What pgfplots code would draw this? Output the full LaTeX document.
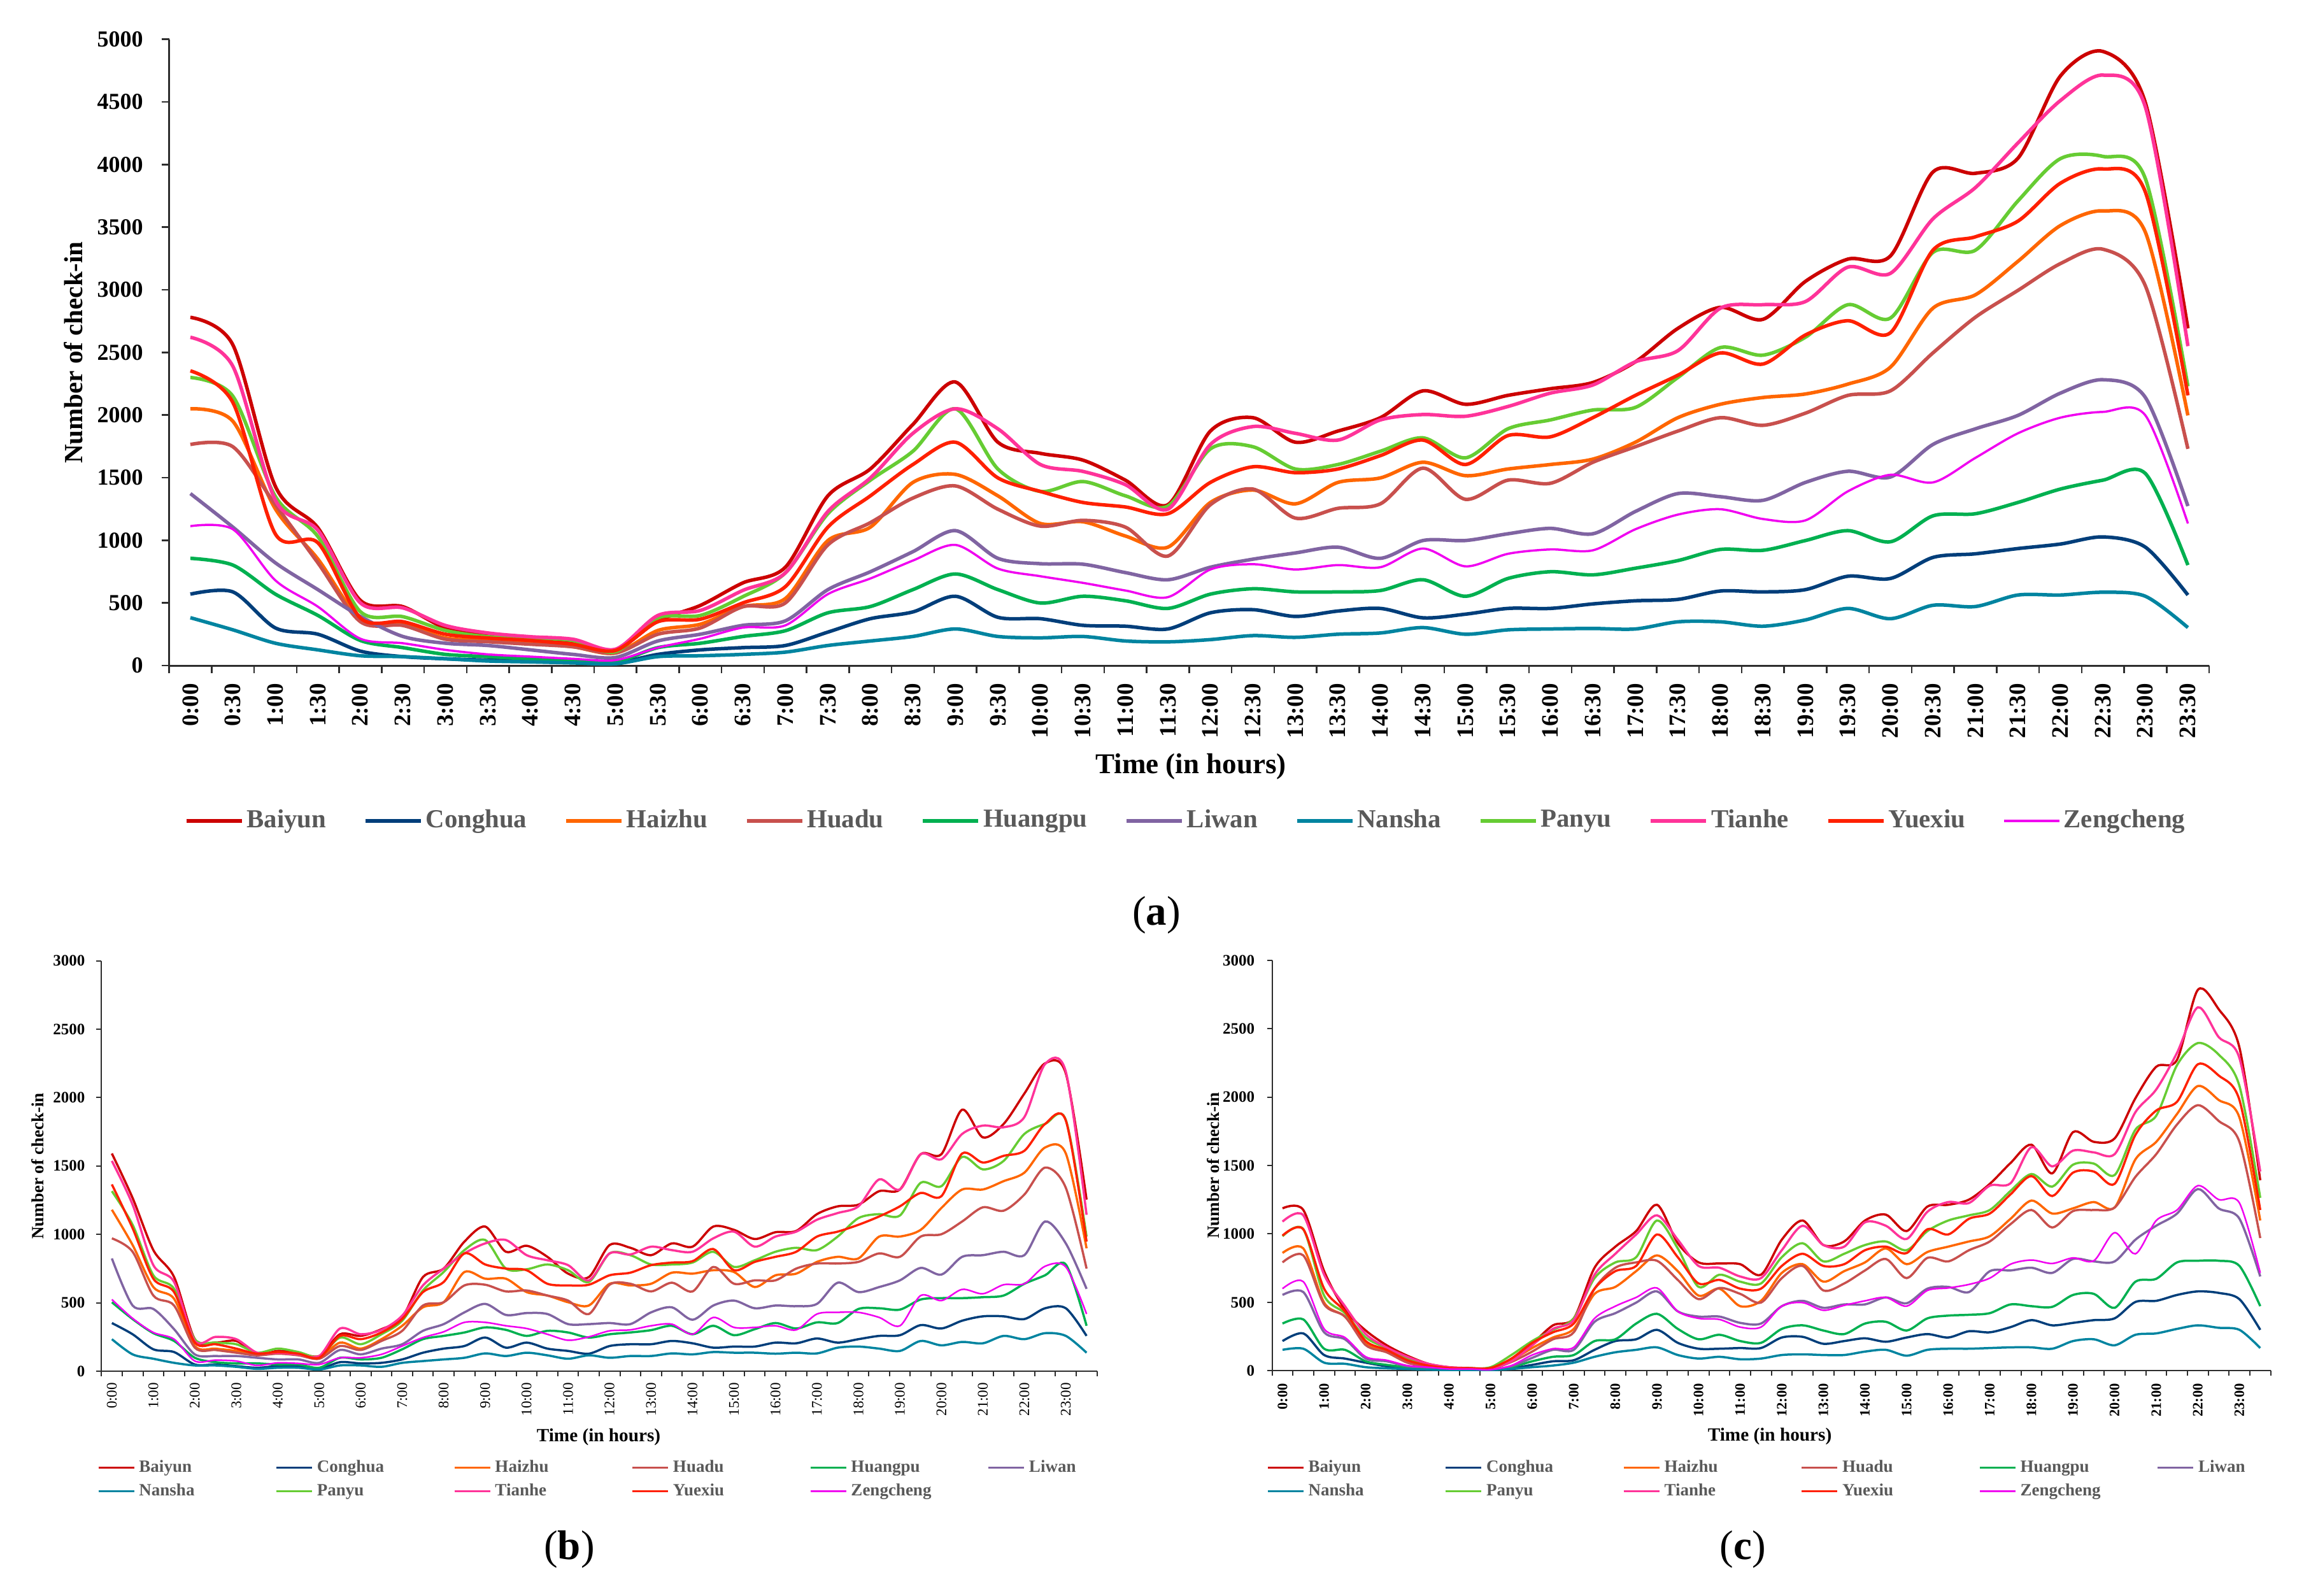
\documentclass[border=0pt]{standalone}
\usepackage{pgfplots}
\pgfplotsset{compat=1.18}
\usepackage{pgfplotstable}
\usepackage{fontspec}
\setmainfont{Liberation Serif}
\definecolor{cBaiyun}{RGB}{204,0,0}
\definecolor{cConghua}{RGB}{0,62,122}
\definecolor{cHaizhu}{RGB}{255,102,0}
\definecolor{cHuadu}{RGB}{200,80,77}
\definecolor{cHuangpu}{RGB}{0,176,80}
\definecolor{cLiwan}{RGB}{128,100,162}
\definecolor{cNansha}{RGB}{0,132,160}
\definecolor{cPanyu}{RGB}{102,204,51}
\definecolor{cTianhe}{RGB}{255,51,153}
\definecolor{cYuexiu}{RGB}{255,32,0}
\definecolor{cZengcheng}{RGB}{240,0,240}
\definecolor{legendgray}{RGB}{89,89,89}
\definecolor{axisgray}{RGB}{45,45,45}

\pgfplotstableread{
i Baiyun Conghua Haizhu Huadu Huangpu Liwan Nansha Panyu Tianhe Yuexiu Zengcheng
0 2780 570 2050 1765 856 1373 382 2300 2621 2353 1113
1 2560 588 1950 1747 802 1105 285 2150 2389 2100 1088
2 1430 300 1250 1284 570 820 178 1350 1320 1050 680
3 1100 250 850 820 400 606 125 1030 1080 980 470
4 520 115 370 350 200 392 78 430 500 380 214
5 470 71 330 320 143 232 71 390 460 350 178
6 300 54 220 210 89 178 54 280 320 250 125
7 250 43 200 190 71 160 36 230 260 220 89
8 210 36 180 170 54 125 29 220 230 200 71
9 190 29 150 150 43 89 21 200 210 170 54
10 125 21 100 100 29 64 14 110 130 120 43
11 357 89 280 250 143 196 71 380 400 350 143
12 480 125 330 300 178 250 78 400 440 370 214
13 660 143 470 470 232 321 89 550 600 500 303
14 785 160 535 500 278 357 107 740 740 630 321
15 1355 267 998 963 421 606 160 1212 1230 1105 570
16 1570 374 1105 1141 471 749 196 1480 1498 1355 695
17 1925 428 1462 1337 606 909 232 1711 1854 1605 838
18 2264 553 1526 1434 731 1077 292 2050 2050 1783 963
19 1783 385 1355 1248 606 856 232 1569 1890 1498 774
20 1694 374 1134 1113 499 813 221 1390 1605 1390 713
21 1640 321 1148 1159 553 809 232 1469 1550 1302 660
22 1480 314 1034 1105 517 742 196 1355 1444 1266 599
23 1284 292 945 874 456 685 189 1273 1248 1212 546
24 1872 421 1302 1284 570 785 207 1730 1765 1462 767
25 1979 446 1401 1409 613 849 239 1747 1908 1587 809
26 1783 392 1291 1177 588 899 225 1569 1854 1540 767
27 1872 435 1462 1255 588 945 250 1605 1800 1569 802
28 1979 456 1498 1291 599 856 260 1711 1961 1676 785
29 2193 381 1623 1576 685 998 303 1818 2004 1800 934
30 2086 410 1516 1327 553 998 250 1658 1990 1605 792
31 2157 456 1569 1480 695 1052 285 1890 2068 1836 892
32 2210 456 1605 1455 749 1095 292 1961 2175 1826 927
33 2260 492 1648 1623 724 1052 296 2040 2240 1979 920
34 2425 517 1783 1747 777 1230 292 2061 2425 2157 1088
35 2692 528 1979 1872 838 1373 349 2300 2514 2318 1205
36 2860 595 2086 1979 927 1348 349 2539 2853 2496 1248
37 2764 588 2140 1918 920 1319 314 2478 2881 2407 1170
38 3067 606 2168 2015 998 1462 364 2621 2906 2639 1159
39 3245 713 2247 2157 1077 1551 456 2881 3181 2753 1391
40 3270 695 2382 2193 988 1505 374 2774 3131 2657 1523
41 3940 863 2853 2496 1195 1765 481 3298 3566 3316 1462
42 3930 892 2960 2781 1212 1890 471 3316 3816 3423 1658
43 4050 934 3227 2995 1302 1997 563 3709 4172 3548 1854
44 4707 970 3513 3209 1409 2175 563 4047 4511 3851 1979
45 4903 1027 3630 3324 1480 2282 585 4065 4714 3965 2025
46 4493 945 3459 3031 1533 2140 553 3887 4458 3780 1997
47 2692 563 1997 1730 802 1273 303 2229 2550 2157 1134
}\tabA

\pgfplotstableread{
i Baiyun Conghua Haizhu Huadu Huangpu Liwan Nansha Panyu Tianhe Yuexiu Zengcheng
0 1591 352 1180 971 504 824 234 1316 1537 1365 524
1 1266 270 922 873 381 480 123 1070 1217 1045 386
2 885 160 615 553 278 455 91 701 775 676 283
3 688 140 529 480 221 307 61 602 652 578 234
4 234 49 184 172 98 123 42 234 221 209 74
5 209 49 165 155 66 111 42 209 251 197 81
6 221 37 148 135 57 111 32 197 234 165 74
7 123 25 123 116 57 98 17 135 135 128 42
8 148 37 135 128 49 86 25 165 135 140 61
9 135 37 123 116 49 86 25 140 123 128 57
10 111 17 98 91 25 61 12 106 111 98 49
11 270 66 209 184 98 155 42 246 312 258 98
12 258 57 165 155 86 123 42 197 270 234 98
13 307 61 234 221 98 165 32 270 302 283 123
14 393 86 332 295 160 197 61 369 406 381 184
15 688 135 467 480 234 295 74 590 627 578 246
16 750 165 504 504 258 344 86 725 750 652 288
17 947 184 725 627 283 430 98 885 861 861 357
18 1057 246 676 632 320 492 130 959 934 780 357
19 873 172 676 583 302 411 111 750 959 750 332
20 917 209 578 590 258 425 135 745 848 738 312
21 836 165 553 553 295 418 116 780 811 639 270
22 713 148 504 516 283 344 91 738 775 627 226
23 688 128 480 418 246 344 116 652 664 632 251
24 922 184 639 632 270 352 98 861 861 701 295
25 902 197 627 639 283 344 111 848 853 720 302
26 848 197 639 583 300 430 111 780 910 775 332
27 934 221 720 647 332 467 130 780 885 794 344
28 910 204 713 583 270 376 123 794 873 804 270
29 1057 172 738 762 332 480 140 873 971 893 393
30 1033 180 725 639 263 516 135 762 1020 738 320
31 966 180 615 664 307 460 135 811 910 799 320
32 1016 209 701 664 352 480 128 873 984 836 332
33 1025 204 713 750 312 475 135 902 1020 873 302
34 1148 239 799 787 357 492 130 885 1107 984 418
35 1205 209 836 787 352 647 172 984 1156 1020 430
36 1217 234 824 799 455 578 180 1119 1205 1070 430
37 1316 258 984 861 460 615 165 1148 1402 1131 393
38 1328 263 984 836 450 664 148 1138 1328 1205 332
39 1586 337 1033 984 524 755 221 1377 1586 1303 553
40 1586 312 1193 1001 534 706 189 1352 1549 1279 516
41 1911 369 1328 1094 534 836 214 1566 1734 1591 598
42 1709 401 1328 1198 541 848 204 1475 1795 1525 566
43 1807 401 1389 1173 553 873 258 1537 1783 1574 632
44 2029 381 1451 1291 639 848 234 1734 1857 1611 639
45 2250 460 1635 1488 701 1094 278 1807 2245 1807 767
46 2176 460 1591 1340 780 934 258 1837 2189 1832 762
47 1254 258 898 750 332 602 135 984 1143 947 418
}\tabB

\pgfplotstableread{
i Baiyun Conghua Haizhu Huadu Huangpu Liwan Nansha Panyu Tianhe Yuexiu Zengcheng
0 1187 217 861 792 345 554 153 983 1090 988 600
1 1175 273 894 843 375 575 161 1034 1136 1034 651
2 728 115 498 485 161 281 59 549 702 600 306
3 447 89 396 396 153 230 51 421 472 434 243
4 294 59 197 187 69 89 26 243 268 217 102
5 187 33 140 135 43 69 18 166 171 153 77
6 110 18 64 59 26 33 13 89 102 77 38
7 51 13 33 31 18 23 8 43 51 38 26
8 26 5 18 18 8 13 5 23 26 20 13
9 20 5 13 13 8 13 5 18 18 18 13
10 18 5 18 13 8 8 5 26 18 20 8
11 77 18 77 64 26 33 13 115 69 89 38
12 197 43 166 140 69 94 26 217 186 204 115
13 332 69 243 230 102 153 38 299 306 281 161
14 383 77 306 281 115 153 59 383 370 345 171
15 753 153 562 600 217 358 102 677 702 600 383
16 907 217 613 753 230 421 135 792 855 728 472
17 1021 230 728 792 345 498 153 830 996 766 536
18 1213 299 843 804 416 580 171 1098 1136 996 605
19 932 204 728 664 306 434 115 894 958 830 434
20 792 161 549 523 230 396 89 613 766 638 383
21 784 161 600 605 263 396 102 702 753 664 375
22 779 166 472 562 217 350 84 651 689 600 319
23 702 166 511 498 204 345 89 638 677 600 319
24 958 243 715 677 306 472 115 830 881 766 472
25 1098 248 779 766 332 511 120 932 1060 855 498
26 919 197 651 587 294 460 115 799 919 766 442
27 945 217 728 638 268 485 115 855 907 779 478
28 1098 237 792 733 345 485 140 919 1085 881 511
29 1141 212 894 817 358 536 153 945 1060 907 536
30 1021 243 779 677 294 493 110 881 963 860 472
31 1200 268 868 825 383 600 153 1021 1162 1034 587
32 1213 243 907 799 403 613 161 1098 1233 996 605
33 1251 289 945 881 409 575 161 1136 1226 1111 631
34 1366 281 983 945 421 728 166 1175 1353 1149 677
35 1519 319 1111 1072 485 733 171 1315 1371 1290 779
36 1652 370 1244 1175 472 753 171 1438 1634 1423 809
37 1443 332 1149 1047 467 715 161 1346 1494 1277 784
38 1744 350 1187 1167 554 817 217 1506 1609 1448 825
39 1673 370 1233 1175 562 799 230 1514 1596 1456 804
40 1698 383 1193 1193 460 799 186 1430 1583 1366 1009
41 1992 503 1545 1417 651 958 263 1762 1890 1724 855
42 2222 511 1673 1583 672 1060 273 1864 2056 1902 1098
43 2273 554 1877 1800 792 1149 306 2234 2324 1966 1175
44 2784 580 2081 1941 804 1328 332 2395 2656 2240 1353
45 2643 569 1979 1826 804 1187 314 2311 2439 2158 1251
46 2362 523 1851 1673 766 1111 299 2081 2285 1979 1226
47 1392 299 1098 970 472 689 166 1264 1456 1175 715
}\tabC

\newcommand\allplots[3]{%
\addplot[smooth,cBaiyun,line width=#2] table[x=i,y=Baiyun]{#1};
\addplot[smooth,cConghua,line width=#2] table[x=i,y=Conghua]{#1};
\addplot[smooth,cHaizhu,line width=#2] table[x=i,y=Haizhu]{#1};
\addplot[smooth,cHuadu,line width=#2] table[x=i,y=Huadu]{#1};
\addplot[smooth,cHuangpu,line width=#2] table[x=i,y=Huangpu]{#1};
\addplot[smooth,cLiwan,line width=#2] table[x=i,y=Liwan]{#1};
\addplot[smooth,cNansha,line width=#2] table[x=i,y=Nansha]{#1};
\addplot[smooth,cPanyu,line width=#2] table[x=i,y=Panyu]{#1};
\addplot[smooth,cTianhe,line width=#2] table[x=i,y=Tianhe]{#1};
\addplot[smooth,cYuexiu,line width=#2] table[x=i,y=Yuexiu]{#1};
\addplot[smooth,cZengcheng,line width=#3] table[x=i,y=Zengcheng]{#1};
}
\newcommand\LB[1]{\makebox[42.8pt][l]{\rule[-1.3pt]{0pt}{5.6pt}#1}}

\pgfplotsset{
  catbase/.style={
    anchor=south west, scale only axis,
    xmin=-0.5, xmax=47.5, ymin=0,
    axis x line*=bottom, axis y line*=left,
    tick align=outside,
    xtick={-0.5,0.5,...,47.5},
    x tick label as interval,
    tick style={color=axisgray},
    /pgf/number format/1000 sep={},
    /pgf/number format/assume math mode=true,
    legend cell align=left,
    clip=true,
  },
}

\begin{document}
\begin{tikzpicture}
\useasboundingbox (0,0) rectangle (721.4pt,501pt);

% ---------------- panel (a) ----------------
\begin{axis}[catbase,
  at={(53.12pt,292pt)}, width=640.68pt, height=196.66pt,
  ymax=5000, ytick={0,500,...,5000},
  axis line style={line width=0.6pt, color=axisgray},
  major tick length=2.4pt, tick style={line width=0.5pt},
  yticklabel style={font=\fontsize{7.2}{8}\selectfont\bfseries, inner sep=0pt},
  yticklabel shift=5.6pt,
  xticklabel style={font=\fontsize{7.4}{8}\selectfont\bfseries, rotate=90, anchor=east, inner sep=0pt},
  xticklabel shift=3pt,
  xticklabels={0:00,0:30,1:00,1:30,2:00,2:30,3:00,3:30,4:00,4:30,5:00,5:30,6:00,6:30,7:00,7:30,8:00,8:30,9:00,9:30,10:00,10:30,11:00,11:30,12:00,12:30,13:00,13:30,14:00,14:30,15:00,15:30,16:00,16:30,17:00,17:30,18:00,18:30,19:00,19:30,20:00,20:30,21:00,21:30,22:00,22:30,23:00,23:30},
  legend columns=11,
  legend style={at={(0.4979,-0.2481)}, anchor=center, draw=none, fill=none,
    inner sep=0pt, outer sep=0pt, nodes={inner sep=0pt},
    font=\fontsize{8.16}{9}\selectfont\bfseries, text=legendgray,
    /tikz/every odd column/.append style={column sep=1pt},
    /tikz/every even column/.append style={column sep=11.8pt}},
  legend image code/.code={\draw[#1] (0pt,0pt) -- (17.4pt,0pt);},
]
\allplots{\tabA}{1.1pt}{0.7pt}
\legend{Baiyun,Conghua,Haizhu,Huadu,Huangpu,Liwan,Nansha,Panyu,Tianhe,Yuexiu,Zengcheng}
\end{axis}
\node[rotate=90, font=\fontsize{8.2}{9}\selectfont\bfseries] at (23.0pt,390.3pt) {Number of check-in};
\node[font=\fontsize{9}{10}\selectfont\bfseries] at (374.0pt,260.2pt) {Time (in hours)};
\node[font=\fontsize{13}{14}\selectfont] at (363.2pt,213.6pt) {(\textbf{a})};

% ---------------- panel (b) ----------------
\begin{axis}[catbase,
  at={(31.88pt,70.4pt)}, width=312.62pt, height=128.9pt,
  ymax=3000, ytick={0,500,...,3000},
  axis line style={line width=0.4pt, color=axisgray},
  major tick length=1.6pt, tick style={line width=0.4pt},
  yticklabel style={font=\fontsize{5}{6}\selectfont\bfseries, inner sep=0pt},
  yticklabel shift=3.4pt,
  xticklabel style={font=\fontsize{4.6}{5}\selectfont, rotate=90, anchor=east, inner sep=0pt},
  xticklabel shift=1.8pt,
  xticklabels={0:00,,1:00,,2:00,,3:00,,4:00,,5:00,,6:00,,7:00,,8:00,,9:00,,10:00,,11:00,,12:00,,13:00,,14:00,,15:00,,16:00,,17:00,,18:00,,19:00,,20:00,,21:00,,22:00,,23:00,},
  legend columns=6,
  legend style={at={(-0.0041,-0.2126)}, anchor=north west, draw=none, fill=none,
    inner sep=0pt, outer sep=0pt, nodes={inner sep=0pt}, row sep=1.6pt,
    font=\fontsize{5.4}{6}\selectfont\bfseries, text=legendgray,
    /tikz/every odd column/.append style={column sep=1.2pt},
    /tikz/every even column/.append style={column sep=0pt}},
  legend image code/.code={\draw[#1] (0pt,0pt) -- (11.2pt,0pt);},
]
\allplots{\tabB}{0.7pt}{0.5pt}
\legend{\LB{Baiyun},\LB{Conghua},\LB{Haizhu},\LB{Huadu},\LB{Huangpu},\LB{Liwan},\LB{Nansha},\LB{Panyu},\LB{Tianhe},\LB{Yuexiu},\LB{Zengcheng}}
\end{axis}
\node[rotate=90, font=\fontsize{5.4}{6}\selectfont\bfseries] at (11.8pt,134.8pt) {Number of check-in};
\node[font=\fontsize{5.85}{7}\selectfont\bfseries] at (188.0pt,49.8pt) {Time (in hours)};
\node[font=\fontsize{13}{14}\selectfont] at (178.8pt,14.4pt) {(\textbf{b})};

% ---------------- panel (c) ----------------
\begin{axis}[catbase,
  at={(399.52pt,70.54pt)}, width=313.6pt, height=128.9pt,
  ymax=3000, ytick={0,500,...,3000},
  axis line style={line width=0.4pt, color=axisgray},
  major tick length=1.6pt, tick style={line width=0.4pt},
  yticklabel style={font=\fontsize{5}{6}\selectfont\bfseries, inner sep=0pt},
  yticklabel shift=3.7pt,
  xticklabel style={font=\fontsize{4.5}{5}\selectfont\bfseries, rotate=90, anchor=east, inner sep=0pt},
  xticklabel shift=2.2pt,
  xticklabels={0:00,,1:00,,2:00,,3:00,,4:00,,5:00,,6:00,,7:00,,8:00,,9:00,,10:00,,11:00,,12:00,,13:00,,14:00,,15:00,,16:00,,17:00,,18:00,,19:00,,20:00,,21:00,,22:00,,23:00,},
  legend columns=6,
  legend style={at={(-0.0055,-0.2137)}, anchor=north west, draw=none, fill=none,
    inner sep=0pt, outer sep=0pt, nodes={inner sep=0pt}, row sep=1.6pt,
    font=\fontsize{5.4}{6}\selectfont\bfseries, text=legendgray,
    /tikz/every odd column/.append style={column sep=1.2pt},
    /tikz/every even column/.append style={column sep=0pt}},
  legend image code/.code={\draw[#1] (0pt,0pt) -- (11.2pt,0pt);},
]
\allplots{\tabC}{0.7pt}{0.5pt}
\legend{\LB{Baiyun},\LB{Conghua},\LB{Haizhu},\LB{Huadu},\LB{Huangpu},\LB{Liwan},\LB{Nansha},\LB{Panyu},\LB{Tianhe},\LB{Yuexiu},\LB{Zengcheng}}
\end{axis}
\node[rotate=90, font=\fontsize{5.4}{6}\selectfont\bfseries] at (381.0pt,135.0pt) {Number of check-in};
\node[font=\fontsize{5.85}{7}\selectfont\bfseries] at (555.8pt,50.0pt) {Time (in hours)};
\node[font=\fontsize{13}{14}\selectfont] at (547.4pt,14.4pt) {(\textbf{c})};
\end{tikzpicture}
\end{document}
